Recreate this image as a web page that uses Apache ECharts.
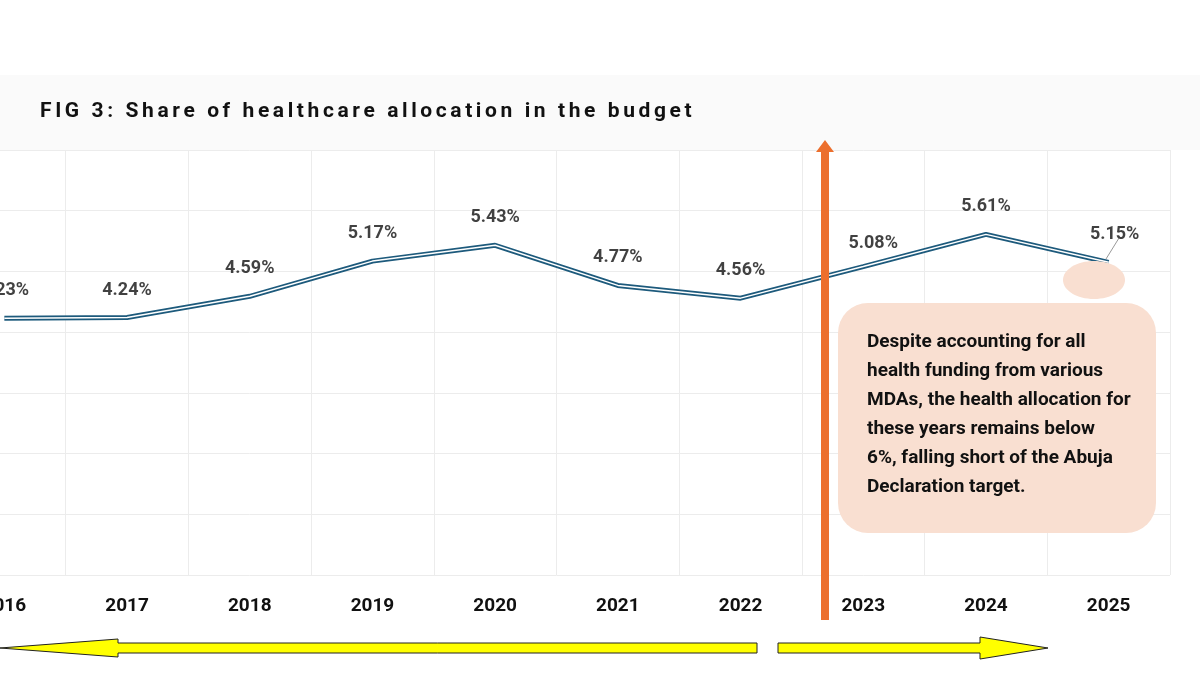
<!DOCTYPE html>
<html><head><meta charset="utf-8">
<script src="https://cdn.jsdelivr.net/npm/echarts@6/dist/echarts.min.js"></script>
<style>html,body{margin:0;background:#fff;overflow:hidden;width:1200px;height:675px;position:relative}
#c{position:absolute;left:-57px;top:0;width:1257px;height:675px}
#t{position:absolute;left:40px;top:98px;font-family:Roboto,sans-serif;font-weight:bold;font-size:21px;letter-spacing:3.6px;color:#111;z-index:5}</style>
</head><body><div id="c"></div><div id="t"></div>
<script>
const years = ['2016','2017','2018','2019','2020','2021','2022','2023','2024','2025'];
const shares = [4.23,4.24,4.59,5.17,5.43,4.77,4.56,5.08,5.61,5.15];
const yTicks = [0,1,2,3,4,5,6,7];
const titleText = 'FIG 3: Share of healthcare allocation in the budget';
const noteText = 'Despite accounting for all\nhealth funding from various\nMDAs, the health allocation for\nthese years remains below\n6%, falling short of the Abuja\nDeclaration target.';
document.getElementById('t').textContent = titleText;
const F = '"Liberation Sans Narrow", Roboto, sans-serif';
const X = 57;
const chart = echarts.init(document.getElementById('c'));
const labelOffsets = [[0,0],[0,0],[0,0],[0,0],[0,0],[0,0],[0,0],[10,4],[0,0],[6,0]];
chart.setOption({
  animation:false,
  backgroundColor:'#fff',
  grid:{left:0,right:30,top:150,bottom:100},
  xAxis:{type:'category',data:years,boundaryGap:true,
    axisLine:{show:false},axisTick:{show:false},
    axisLabel:{color:'#111',fontWeight:'bold',fontSize:19,fontFamily:'Roboto',margin:22},
    splitLine:{show:true,lineStyle:{color:'#ececec'}}},
  yAxis:{type:'value',min:yTicks[0],max:yTicks[yTicks.length-1],interval:1,
    axisLabel:{show:false},axisLine:{show:false},axisTick:{show:false},
    splitLine:{lineStyle:{color:'#ececec'}}},
  graphic:[
    {type:'rect',shape:{x:0,y:75,width:1300,height:75},style:{fill:'#fafafa'},z:-10},
    {type:'ellipse',shape:{cx:1094+X,cy:280,rx:31,ry:19},style:{fill:'#f9dfd1'},z:5},
    {type:'rect',shape:{x:838+X,y:303,width:318,height:230,r:30},style:{fill:'#f9dfd1'},z:5},
    {type:'text',left:867+X,top:328,z:6,style:{text:noteText,fontFamily:F,fontWeight:'bold',fontSize:19,lineHeight:29,fill:'#111'}},
    {type:'line',shape:{x1:1106+X,y1:259,x2:1119+X,y2:238},style:{stroke:'#999',lineWidth:1},z:6},
    {type:'polygon',shape:{points:[[821+X,620],[829+X,620],[829+X,152],[834+X,152],[825+X,140],[816+X,152],[821+X,152]]},style:{fill:'#ec6f2d'},z:7},
    {type:'polygon',shape:{points:[[0+X,648],[118+X,639],[118+X,643],[757+X,643],[757+X,653],[118+X,653],[118+X,657]]},style:{fill:'#ffff00',stroke:'#222',lineWidth:1}},
    {type:'polygon',shape:{points:[[778+X,643],[980+X,643],[980+X,637],[1048+X,648],[980+X,659],[980+X,653],[778+X,653]]},style:{fill:'#ffff00',stroke:'#222',lineWidth:1}}
  ],
  series:[
    {type:'line',data:shares,symbol:'none',lineStyle:{color:'#1d5a7c',width:5},z:3},
    {type:'line',data:shares,symbol:'none',lineStyle:{color:'#fff',width:1.5},z:4,silent:true},
    {type:'scatter',symbolSize:1,itemStyle:{color:'rgba(0,0,0,0)'},z:8,
      data:shares.map((v,i)=>({value:[years[i],v],label:{offset:labelOffsets[i]}})),
      label:{show:true,position:'top',distance:18,formatter:p=>p.value[1].toFixed(2)+'%',
        fontFamily:'Roboto',fontWeight:'bold',fontSize:18,color:'#111'}}
  ]
});
</script></body></html>
